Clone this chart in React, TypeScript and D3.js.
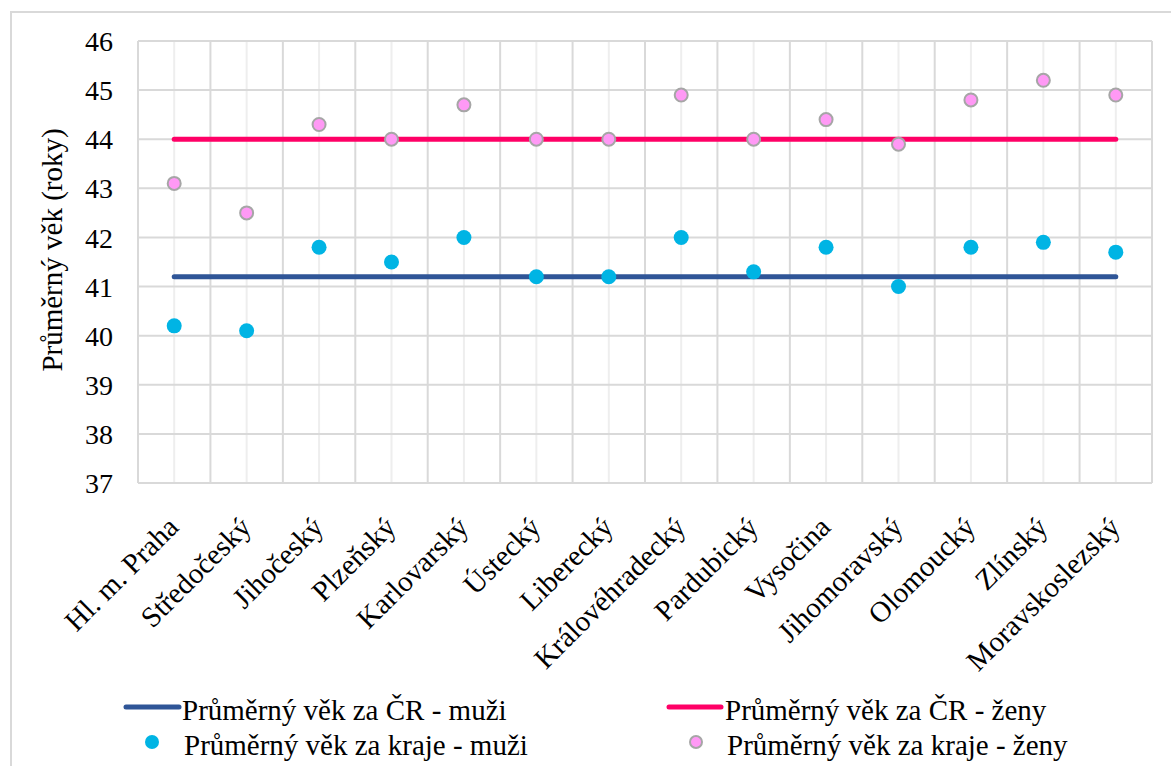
import React from "react";
import * as d3 from "d3";

const categories = ["Hl. m. Praha","Středočeský","Jihočeský","Plzeňský","Karlovarský","Ústecký","Liberecký","Královéhradecký","Pardubický","Vysočina","Jihomoravský","Olomoucký","Zlínský","Moravskoslezský"];
const krajeMuzi = [40.2,40.1,41.8,41.5,42.0,41.2,41.2,42.0,41.3,41.8,41.0,41.8,41.9,41.7];
const krajeZeny = [43.1,42.5,44.3,44.0,44.7,44.0,44.0,44.9,44.0,44.4,43.9,44.8,45.2,44.9];
const crMuzi = [41.2,41.2,41.2,41.2,41.2,41.2,41.2,41.2,41.2,41.2,41.2,41.2,41.2,41.2];
const crZeny = [44,44,44,44,44,44,44,44,44,44,44,44,44,44];
const yTicks = [37,38,39,40,41,42,43,44,45,46];
const yTitle = "Průměrný věk (roky)";
const legendLabels = ["Průměrný věk za ČR - muži","Průměrný věk za ČR - ženy","Průměrný věk za kraje - muži","Průměrný věk za kraje - ženy"];

const FONT = '"Liberation Serif"';
const C_MUZI_LINE = "#2f5597";
const C_ZENY_LINE = "#ff0066";
const C_MUZI_PT = "#00b4e4";
const C_ZENY_PT = "#ff99f5";

export default function App() {
  const L = 138, R = 1152, T = 41, B = 483;
  const x = d3.scaleBand<string>().domain(categories).range([L, R]).padding(0);
  const y = d3.scaleLinear().domain([37, 46]).range([B, T]);
  const cx = (c: string) => (x(c) as number) + x.bandwidth() / 2;
  const line = d3.line<number>().x((_, i) => cx(categories[i])).y(d => y(d));
  const ts = { fontFamily: FONT, fill: "#000" } as React.CSSProperties;
  const FS = 29;

  return (
    <svg width={1171} height={766} style={{ position: "absolute", left: 0, top: 0, background: "#fff" }}>
      <rect x={11} y={12} width={1200} height={800} fill="#fff" stroke="#d9d9d9" strokeWidth={2} />
      {categories.map(c => (
        <line key={"cg" + c} x1={cx(c)} x2={cx(c)} y1={T} y2={B} stroke="#eeeeee" strokeWidth={2} />
      ))}
      {categories.map(c => (
        <line key={"bg" + c} x1={x(c) as number} x2={x(c) as number} y1={T} y2={B} stroke="#d9d9d9" strokeWidth={2} />
      ))}
      <line x1={R} x2={R} y1={T} y2={B} stroke="#d9d9d9" strokeWidth={2} />
      {yTicks.map(t => (
        <line key={"h" + t} x1={L} x2={R} y1={y(t)} y2={y(t)} stroke="#d9d9d9" strokeWidth={2} />
      ))}
      {yTicks.map(t => (
        <text key={"t" + t} x={113} y={y(t)} dy="0.36em" textAnchor="end" fontSize={28} style={ts}>{t}</text>
      ))}
      <text transform={`translate(${62},${250}) rotate(-90)`} textAnchor="middle" fontSize={FS} style={ts}>{yTitle}</text>
      {categories.map(c => (
        <text key={"xl" + c} transform={`translate(${cx(c) + 6},${B + 46}) rotate(-45)`} textAnchor="end" fontSize={FS} style={ts}>{c}</text>
      ))}
      <path d={line(crMuzi) || ""} fill="none" stroke={C_MUZI_LINE} strokeWidth={5} strokeLinecap="round" />
      <path d={line(crZeny) || ""} fill="none" stroke={C_ZENY_LINE} strokeWidth={5} strokeLinecap="round" />
      {krajeMuzi.map((v, i) => (
        <circle key={"m" + i} cx={cx(categories[i])} cy={y(v)} r={7.5} fill={C_MUZI_PT} />
      ))}
      {krajeZeny.map((v, i) => (
        <circle key={"z" + i} cx={cx(categories[i])} cy={y(v)} r={6.5} fill={C_ZENY_PT} stroke="#a6a6a6" strokeWidth={2} />
      ))}
      <line x1={126} x2={179} y1={707} y2={707} stroke={C_MUZI_LINE} strokeWidth={5} strokeLinecap="round" />
      <text x={182} y={707} dy="0.45em" fontSize={FS} style={ts}>{legendLabels[0]}</text>
      <line x1={669} x2={721} y1={707} y2={707} stroke={C_ZENY_LINE} strokeWidth={5} strokeLinecap="round" />
      <text x={725} y={707} dy="0.45em" fontSize={FS} style={ts}>{legendLabels[1]}</text>
      <circle cx={152} cy={742} r={7} fill={C_MUZI_PT} />
      <text x={184} y={742} dy="0.45em" fontSize={FS} style={ts}>{legendLabels[2]}</text>
      <circle cx={696} cy={742} r={6} fill={C_ZENY_PT} stroke="#a6a6a6" strokeWidth={2} />
      <text x={727} y={742} dy="0.45em" fontSize={FS} style={ts}>{legendLabels[3]}</text>
    </svg>
  );
}
